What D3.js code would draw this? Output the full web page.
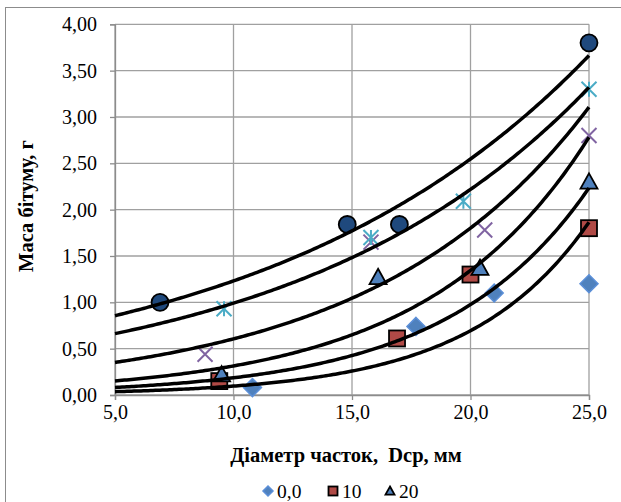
<!DOCTYPE html>
<html>
<head>
<meta charset="utf-8">
<script src="https://d3js.org/d3.v7.min.js"></script>
<style>
  body { margin: 0; background: #fff; }
  svg { display: block; font-family: "Liberation Serif", "Times New Roman", serif; }
</style>
</head>
<body>
<div id="chart"></div>
<script>
// particle diameter (mm) and bitumen mass (g) for each series
const seriesNames = ["0,0", "10", "20", "30", "40", "50"];
const diam00 = [10.8, 17.7, 21.0, 25.0];
const mass00 = [0.08, 0.74, 1.10, 1.20];
const diam10 = [9.4, 16.9, 20.0, 25.0];
const mass10 = [0.15, 0.61, 1.30, 1.80];
const diam20 = [9.5, 16.1, 20.4, 25.0];
const mass20 = [0.22, 1.27, 1.37, 2.30];
const diam30 = [8.8, 15.8, 20.6, 25.0];
const mass30 = [0.44, 1.65, 1.78, 2.80];
const diam40 = [9.6, 15.8, 19.7, 25.0];
const mass40 = [0.93, 1.70, 2.09, 3.30];
const diam50 = [6.9, 14.8, 17.0, 25.0];
const mass50 = [1.00, 1.84, 1.84, 3.80];

const xTicks = [5, 10, 15, 20, 25];
const yTicks = [0, 0.5, 1, 1.5, 2, 2.5, 3, 3.5, 4];

const allDiam = [diam00, diam10, diam20, diam30, diam40, diam50];
const allMass = [mass00, mass10, mass20, mass30, mass40, mass50];
const markers = ["diamond", "square", "triangle", "cross", "star", "circle"];
const fills = ["#4F81BD", "#B04A46", "#4F81BD", "none", "none", "#1F497D"];
const strokes = ["#5B8FD8", "#000", "#000", "#8064A2", "#4BACC6", "#000"];

const series = seriesNames.map((name, i) => ({
  name, marker: markers[i], fill: fills[i], stroke: strokes[i],
  points: allDiam[i].map((d, j) => ({ x: d, y: allMass[i][j] }))
}));

// exponential trendline, least squares on ln(y) like the spreadsheet does
function expFit(pts) {
  const mx = d3.mean(pts, p => p.x);
  const ml = d3.mean(pts, p => Math.log(p.y));
  let sxy = 0, sxx = 0;
  pts.forEach(p => { sxy += (p.x - mx) * (Math.log(p.y) - ml); sxx += (p.x - mx) ** 2; });
  const b = sxy / sxx;
  const a = Math.exp(ml - b * mx);
  return x => a * Math.exp(b * x);
}

const width = 621, height = 502;
const svg = d3.select("#chart").append("svg")
  .attr("width", width).attr("height", height);

// outer chart frame (runs past the right and bottom edges)
svg.append("rect")
  .attr("x", 5.5).attr("y", 7.5)
  .attr("width", 640).attr("height", 520)
  .attr("fill", "none").attr("stroke", "#8c8c8c").attr("stroke-width", 1);

const x = d3.scaleLinear().domain([5, 25]).range([115, 589]);
const y = d3.scaleLinear().domain([0, 4]).range([395, 24.3]);

const loc = d3.formatLocale({ decimal: ",", thousands: " ", grouping: [3], currency: ["", ""] });
const fx = loc.format(".1f"), fy = loc.format(".2f");

// gridlines
svg.append("g").selectAll("line").data(yTicks).join("line")
  .attr("x1", x(5)).attr("x2", x(25))
  .attr("y1", d => y(d)).attr("y2", d => y(d))
  .attr("stroke", "#a0a0a0").attr("stroke-width", 1.3);
svg.append("g").selectAll("line").data(xTicks).join("line")
  .attr("x1", d => x(d)).attr("x2", d => x(d))
  .attr("y1", y(0)).attr("y2", y(4))
  .attr("stroke", "#a0a0a0").attr("stroke-width", 1.3);

// axes
const xAxis = svg.append("g")
  .attr("transform", `translate(0,${y(0)})`)
  .call(d3.axisBottom(x).tickValues(xTicks).tickFormat(fx).tickSize(5).tickPadding(5));
const yAxis = svg.append("g")
  .attr("transform", `translate(${x(5)},0)`)
  .call(d3.axisLeft(y).tickValues(yTicks).tickFormat(fy).tickSize(5).tickPadding(13));
[xAxis, yAxis].forEach(g => {
  g.select(".domain").attr("stroke", "#8c8c8c").attr("stroke-width", 1.3);
  g.selectAll(".tick line").attr("stroke", "#8c8c8c").attr("stroke-width", 1.3);
  g.selectAll("text").attr("font-size", 20).attr("fill", "#000")
    .attr("font-family", "Liberation Serif, Times New Roman, serif");
});

// axis titles
svg.append("text")
  .attr("x", 346).attr("y", 462)
  .attr("text-anchor", "middle")
  .attr("font-size", 20.5).attr("font-weight", "bold")
  .attr("xml:space", "preserve")
  .text("Діаметр часток,  Dcp, мм");
svg.append("text")
  .attr("transform", "translate(33,206) rotate(-90)")
  .attr("text-anchor", "middle")
  .attr("font-size", 20.5).attr("font-weight", "bold")
  .text("Маса бітуму, г");

// marker shapes
function drawMarker(g, type, size, fill, stroke) {
  const h = size / 2;
  if (type === "diamond") {
    g.append("path").attr("d", `M0,${-h}L${h},0L0,${h}L${-h},0Z`)
      .attr("fill", fill).attr("stroke", stroke).attr("stroke-width", 1.5);
  } else if (type === "square") {
    g.append("rect").attr("x", -h).attr("y", -h).attr("width", size).attr("height", size)
      .attr("fill", fill).attr("stroke", stroke).attr("stroke-width", 1.8);
  } else if (type === "triangle") {
    g.append("path").attr("d", `M0,${-h}L${h},${h * 0.8}L${-h},${h * 0.8}Z`)
      .attr("fill", fill).attr("stroke", stroke).attr("stroke-width", 1.8);
  } else if (type === "circle") {
    g.append("circle").attr("r", h)
      .attr("fill", fill).attr("stroke", stroke).attr("stroke-width", 1.8);
  } else {
    let d = `M${-h},${-h}L${h},${h}M${-h},${h}L${h},${-h}`;
    if (type === "star") d += `M0,${-h}L0,${h}`;
    g.append("path").attr("d", d)
      .attr("fill", "none").attr("stroke", stroke).attr("stroke-width", 2);
  }
}

const sizeOf = { diamond: 18, square: 16, triangle: 17, cross: 15, star: 15, circle: 17 };

series.forEach(s => {
  const g = svg.append("g");
  s.points.forEach(p => {
    const m = g.append("g").attr("transform", `translate(${x(p.x)},${y(p.y)})`);
    drawMarker(m, s.marker, sizeOf[s.marker], s.fill, s.stroke);
  });
});

// trendlines on top
const line = d3.line().x(d => x(d[0])).y(d => y(d[1]));
series.forEach(s => {
  const f = expFit(s.points);
  const pts = d3.range(0, 201).map(i => { const xv = 5 + i * 0.1; return [xv, f(xv)]; });
  svg.append("path").datum(pts)
    .attr("d", line)
    .attr("fill", "none").attr("stroke", "#000").attr("stroke-width", 3.5);
});

// legend: only the first row is inside the frame
const legendShown = series.slice(0, 3);
const legendX = [268, 333, 390];
legendShown.forEach((s, i) => {
  const g = svg.append("g").attr("transform", `translate(${legendX[i]},491)`);
  drawMarker(g.append("g"), s.marker, s.marker === "diamond" ? 10 : 9, s.fill, s.stroke);
  g.append("text").attr("x", 9).attr("y", 6.5)
    .attr("font-size", 19.5).text(s.name);
});
</script>
</body>
</html>
